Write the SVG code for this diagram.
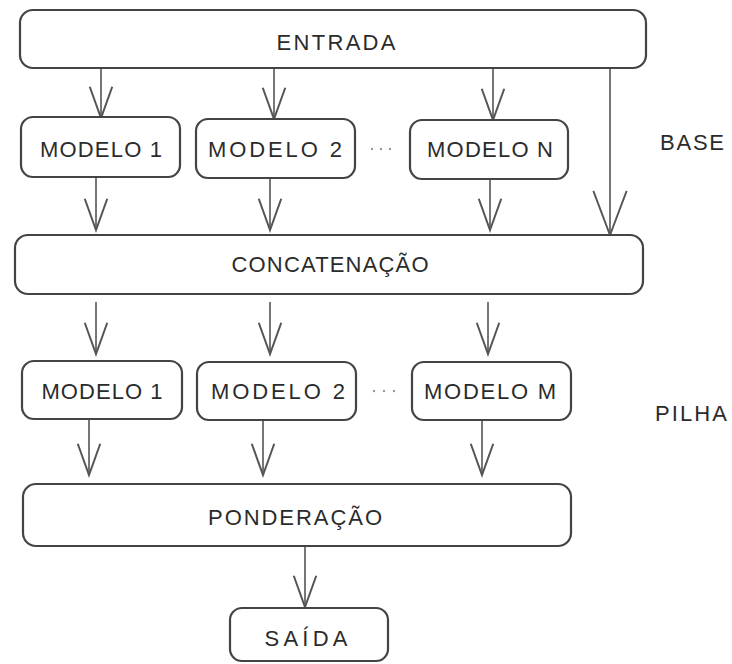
<svg xmlns="http://www.w3.org/2000/svg" width="732" height="664" viewBox="0 0 732 664">
<defs>
<style>
.box{fill:#fff;stroke:#444;stroke-width:2.2}
.t{font-family:"Liberation Sans","DejaVu Sans",sans-serif;font-size:22px;fill:#2b2b2b;text-anchor:middle;dominant-baseline:central}
.c{fill:none;stroke:#555;stroke-width:1.6}
.dot{fill:#999}
</style>
<marker id="ah" markerUnits="userSpaceOnUse" markerWidth="40" markerHeight="30" refX="0" refY="0" viewBox="-30 -12 32 24" orient="auto" overflow="visible">
<path d="M-25,-9 L0,0 L-25,9" fill="none" stroke="#555" stroke-width="1.6"/>
</marker>
<marker id="ahL" markerUnits="userSpaceOnUse" markerWidth="50" markerHeight="40" refX="0" refY="0" viewBox="-40 -16 42 32" orient="auto" overflow="visible">
<path d="M-37,-14 L0,0 L-37,14" fill="none" stroke="#555" stroke-width="1.6"/>
</marker>
</defs>
<rect width="732" height="664" fill="#fff"/>
<g id="connectors">
<path class="c" d="M101,68 V118" marker-end="url(#ah)"/>
<path class="c" d="M274,68 V119" marker-end="url(#ah)"/>
<path class="c" d="M493,68 V120" marker-end="url(#ah)"/>
<path class="c" d="M610,68 V235" marker-end="url(#ahL)"/>
<path class="c" d="M96,177 V230" marker-end="url(#ah)"/>
<path class="c" d="M270,179 V230" marker-end="url(#ah)"/>
<path class="c" d="M490,179 V230" marker-end="url(#ah)"/>
<path class="c" d="M96,302 V354" marker-end="url(#ah)"/>
<path class="c" d="M270,302 V354" marker-end="url(#ah)"/>
<path class="c" d="M488,302 V354" marker-end="url(#ah)"/>
<path class="c" d="M89,420 V475" marker-end="url(#ah)"/>
<path class="c" d="M263,420 V475" marker-end="url(#ah)"/>
<path class="c" d="M482,420 V475" marker-end="url(#ah)"/>
<path class="c" d="M305,546 V607" marker-end="url(#ah)"/>
</g>
<g id="entrada"><rect class="box" x="20" y="10" width="626" height="58" rx="13"/><text class="t" x="336" y="42" textLength="119" lengthAdjust="spacing">ENTRADA</text></g>
<g id="modelo1a"><rect class="box" x="21" y="117" width="159" height="60" rx="12"/><text class="t" x="101" y="149" textLength="122" lengthAdjust="spacing">MODELO 1</text></g>
<g id="modelo2a"><rect class="box" x="196" y="119" width="159" height="59" rx="12"/><text class="t" x="275" y="149" textLength="134" lengthAdjust="spacing">MODELO 2</text></g>
<g id="dotsa"><circle class="dot" cx="372" cy="149" r="1.2"/><circle class="dot" cx="381" cy="149" r="1.2"/><circle class="dot" cx="390" cy="149" r="1.2"/></g>
<g id="modeloNa"><rect class="box" x="410" y="120" width="158" height="59" rx="12"/><text class="t" x="490" y="149" textLength="126" lengthAdjust="spacing">MODELO N</text></g>
<g id="base"><text class="t" x="692" y="142" textLength="64" lengthAdjust="spacing">BASE</text></g>
<g id="concatenacao"><rect class="box" x="15" y="235" width="628" height="59" rx="13"/><text class="t" x="330" y="264" textLength="197" lengthAdjust="spacing">CONCATENAÇÃO</text></g>
<g id="modelo1b"><rect class="box" x="22" y="361" width="160" height="58" rx="12"/><text class="t" x="102" y="391" textLength="121" lengthAdjust="spacing">MODELO 1</text></g>
<g id="modelo2b"><rect class="box" x="197" y="362" width="159" height="58" rx="12"/><text class="t" x="278" y="391" textLength="134" lengthAdjust="spacing">MODELO 2</text></g>
<g id="dotsb"><circle class="dot" cx="374" cy="391" r="1.2"/><circle class="dot" cx="384" cy="391" r="1.2"/><circle class="dot" cx="394" cy="391" r="1.2"/></g>
<g id="modeloMb"><rect class="box" x="412" y="362" width="159" height="58" rx="12"/><text class="t" x="490" y="391" textLength="132" lengthAdjust="spacing">MODELO M</text></g>
<g id="pilha"><text class="t" x="691" y="413" textLength="72" lengthAdjust="spacing">PILHA</text></g>
<g id="ponderacao"><rect class="box" x="23" y="484" width="548" height="62" rx="13"/><text class="t" x="295" y="517" textLength="174" lengthAdjust="spacing">PONDERAÇÃO</text></g>
<g id="saida"><rect class="box" x="230" y="608" width="158" height="53" rx="12"/><text class="t" x="306" y="638" textLength="83" lengthAdjust="spacing">SAÍDA</text></g>
</svg>
